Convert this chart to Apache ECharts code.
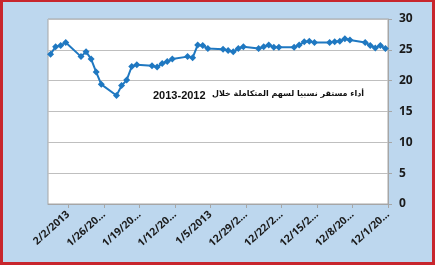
<!DOCTYPE html>
<html>
<head>
<meta charset="utf-8">
<script src="https://cdn.jsdelivr.net/npm/echarts@6/dist/echarts.min.js"></script>
<style>
html,body{margin:0;padding:0;background:#bdd7ee;}
#wrap{position:relative;width:435px;height:265px;}
#chart{position:absolute;left:0;top:0;width:435px;height:265px;}
#frame{position:absolute;left:0;top:0;width:435px;height:265px;box-sizing:border-box;border:3px solid #c8262d;border-top-width:2px;pointer-events:none;}
</style>
</head>
<body>
<div id="wrap"><div id="chart"></div><div id="frame"></div></div>
<script>
const dates = ["12/1/2012","12/2/2012","12/3/2012","12/4/2012","12/5/2012",
"12/8/2012","12/9/2012","12/10/2012","12/11/2012","12/12/2012",
"12/15/2012","12/16/2012","12/17/2012","12/18/2012","12/19/2012",
"12/22/2012","12/23/2012","12/24/2012","12/25/2012","12/26/2012",
"12/29/2012","12/30/2012","12/31/2012","1/1/2013","1/2/2013",
"1/5/2013","1/6/2013","1/7/2013","1/8/2013","1/9/2013",
"1/12/2013","1/13/2013","1/14/2013","1/15/2013","1/16/2013",
"1/19/2013","1/20/2013","1/21/2013","1/22/2013","1/23/2013",
"1/26/2013","1/27/2013","1/28/2013","1/29/2013","1/30/2013",
"2/2/2013","2/3/2013","2/4/2013","2/5/2013"];
const prices = [25.2,25.7,25.3,25.7,26.2,
26.6,26.8,26.4,26.3,26.2,
26.2,26.4,26.3,25.8,25.4,
25.4,25.4,25.8,25.5,25.2,
25.5,25.2,24.7,24.9,25.1,
25.2,25.7,25.8,23.7,23.9,
23.5,23.1,22.8,22.2,22.4,
22.6,22.3,20.1,19.2,17.6,
19.4,21.4,23.5,24.7,23.9,
26.2,25.7,25.5,24.3];
const tickDates = ["12/1/2012","12/8/2012","12/15/2012","12/22/2012","12/29/2012","1/5/2013","1/12/2013","1/19/2013","1/26/2013","2/2/2013"];
const tickLabels = ["12/1/20\u2026","12/8/20\u2026","12/15/2\u2026","12/22/2\u2026","12/29/2\u2026","1/5/2013","1/12/20\u2026","1/19/20\u2026","1/26/20\u2026","2/2/2013"];
const yTicks = [0,5,10,15,20,25,30];
const titleYears = "2013-2012";
const titleWords = "أداء مستقر نسبيا لسهم المتكاملة خلال";

function dayIndex(s){
  const p = s.split('/').map(Number);
  return Math.round((Date.UTC(p[2],p[0]-1,p[1]) - Date.UTC(2012,11,1)) / 86400000);
}
const tickPos = tickDates.map(dayIndex);
const labelMap = {};
tickPos.forEach((v,i)=>{labelMap[v]=tickLabels[i];});
const seriesData = dates.map((d,i)=>[dayIndex(d)+0.5, prices[i]]);

const chart = echarts.init(document.getElementById('chart'), null, {renderer:'canvas'});
chart.setOption({
  backgroundColor:'#bdd7ee',
  animation:false,
  grid:{left:48,right:47,top:19,bottom:61,show:true,backgroundColor:'#ffffff',borderColor:'#a6a6a6',borderWidth:1},
  xAxis:{
    type:'value',inverse:true,min:0,max:67,
    axisLine:{show:true,lineStyle:{color:'#a6a6a6',width:1}},
    axisTick:{show:true,length:4,customValues:tickPos,lineStyle:{color:'#a6a6a6'}},
    splitLine:{show:false},
    axisLabel:{customValues:tickPos,rotate:42,margin:9,fontSize:10.5,fontWeight:'bold',color:'#1a1a1a',fontFamily:'"Open Sans","Liberation Sans",sans-serif',
      formatter:v=>labelMap[Math.round(v)]||''}
  },
  yAxis:{
    type:'value',position:'right',min:0,max:30,interval:5,
    axisLine:{show:true,lineStyle:{color:'#a6a6a6',width:1}},
    axisTick:{show:true,length:4,lineStyle:{color:'#a6a6a6'}},
    splitLine:{show:true,lineStyle:{color:'#bfbfbf',width:1}},
    axisLabel:{margin:11,fontSize:12,fontWeight:'bold',color:'#1a1a1a',fontFamily:'"Open Sans","Liberation Sans",sans-serif',
      customValues:yTicks}
  },
  graphic:[
    {type:'text',left:153,top:90,style:{text:titleYears,font:'bold 11px "Liberation Sans",sans-serif',fill:'#111111'}},
    {type:'text',right:71,top:90,style:{text:titleWords,font:'bold 8px "DejaVu Sans",sans-serif',fill:'#111111'}}
  ],
  series:[{type:'line',data:seriesData,symbol:'diamond',symbolSize:7,
    lineStyle:{color:'#1f78c1',width:2},itemStyle:{color:'#1f78c1'}}]
});
</script>
</body>
</html>
